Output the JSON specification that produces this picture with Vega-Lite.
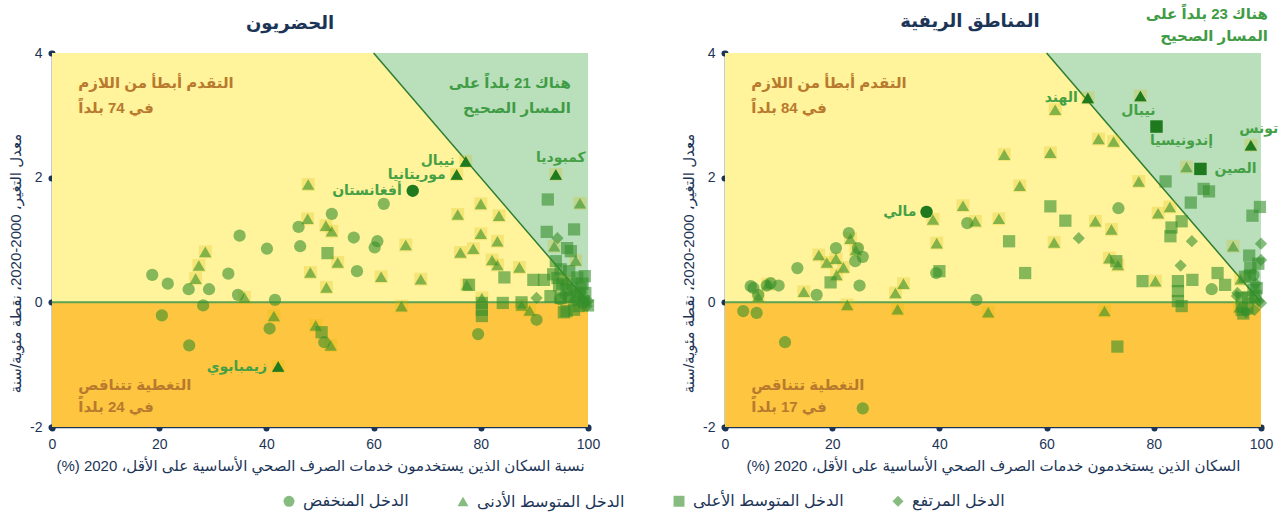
{
 "$schema": "https://vega.github.io/schema/vega-lite/v6.json",
 "padding": {"left": 8, "right": 5, "top": 7, "bottom": 5},
 "datasets": {
  "tri": [{"x": 60, "y": 4}, {"x": 100, "y": 0}],
  "urban": [
   {"x":18.7,"y":0.44,"g":"L"},{"x":21.6,"y":0.30,"g":"L"},{"x":25.5,"y":0.21,"g":"L"},{"x":29.3,"y":0.21,"g":"L"},{"x":32.9,"y":0.46,"g":"L"},{"x":35.0,"y":1.07,"g":"L"},{"x":34.7,"y":0.12,"g":"L"},{"x":40.1,"y":0.86,"g":"L"},{"x":41.6,"y":0.04,"g":"L"},{"x":46.0,"y":1.21,"g":"L"},{"x":46.3,"y":0.90,"g":"L"},{"x":52.2,"y":1.42,"g":"L"},{"x":56.3,"y":1.04,"g":"L"},{"x":60.7,"y":0.98,"g":"L"},{"x":60.2,"y":0.88,"g":"L"},{"x":56.9,"y":0.50,"g":"L"},{"x":61.9,"y":1.58,"g":"L"},{"x":28.2,"y":-0.05,"g":"L"},{"x":20.5,"y":-0.21,"g":"L"},{"x":25.6,"y":-0.69,"g":"L"},{"x":40.6,"y":-0.42,"g":"L"},{"x":50.8,"y":-0.64,"g":"L"},{"x":79.5,"y":-0.51,"g":"L"},{"x":90.4,"y":-0.28,"g":"L"},{"x":94.8,"y":0.05,"g":"L"},{"x":96.5,"y":0.08,"g":"L"},{"x":98.5,"y":0.15,"g":"L"},
   {"x":67.3,"y":1.79,"g":"L","label":"أفغانستان"},
   {"x":47.8,"y":1.89,"g":"LM"},{"x":47.7,"y":1.34,"g":"LM"},{"x":51.1,"y":1.23,"g":"LM"},{"x":52.2,"y":1.14,"g":"LM"},{"x":28.6,"y":0.81,"g":"LM"},{"x":27.4,"y":0.59,"g":"LM"},{"x":26.8,"y":0.38,"g":"LM"},{"x":53.3,"y":0.64,"g":"LM"},{"x":48.2,"y":0.48,"g":"LM"},{"x":51.2,"y":0.24,"g":"LM"},{"x":35.9,"y":0.08,"g":"LM"},{"x":41.4,"y":-0.22,"g":"LM"},{"x":49.2,"y":-0.37,"g":"LM"},{"x":52.0,"y":-0.69,"g":"LM"},{"x":80.0,"y":1.58,"g":"LM"},{"x":75.7,"y":1.41,"g":"LM"},{"x":83.4,"y":1.39,"g":"LM"},{"x":80.0,"y":1.10,"g":"LM"},{"x":83.1,"y":0.98,"g":"LM"},{"x":66.0,"y":0.92,"g":"LM"},{"x":76.2,"y":0.80,"g":"LM"},{"x":78.6,"y":0.86,"g":"LM"},{"x":82.1,"y":0.68,"g":"LM"},{"x":83.1,"y":0.60,"g":"LM"},{"x":87.2,"y":0.56,"g":"LM"},{"x":61.4,"y":0.41,"g":"LM"},{"x":68.8,"y":0.37,"g":"LM"},{"x":77.4,"y":0.28,"g":"LM"},{"x":80.2,"y":0.07,"g":"LM"},{"x":65.2,"y":-0.06,"g":"LM"},{"x":87.6,"y":-0.05,"g":"LM"},{"x":89.1,"y":-0.13,"g":"LM"},{"x":98.5,"y":1.59,"g":"LM"},{"x":93.7,"y":0.90,"g":"LM"},{"x":97.7,"y":0.67,"g":"LM"},{"x":95.8,"y":0.35,"g":"LM"},
   {"x":77.2,"y":2.26,"g":"LM","label":"نيبال"},{"x":75.5,"y":2.05,"g":"LM","label":"موريتانيا"},{"x":94.0,"y":2.05,"g":"LM","label":"كمبوديا"},{"x":42.2,"y":-1.03,"g":"LM","label":"زيمبابوي"},
   {"x":51.4,"y":0.79,"g":"UM"},{"x":50.3,"y":-0.48,"g":"UM"},{"x":77.8,"y":0.28,"g":"UM"},{"x":84.4,"y":0.40,"g":"UM"},{"x":89.8,"y":0.36,"g":"UM"},{"x":91.8,"y":0.36,"g":"UM"},{"x":80.2,"y":-0.01,"g":"UM"},{"x":80.2,"y":-0.12,"g":"UM"},{"x":80.2,"y":-0.22,"g":"UM"},{"x":84.1,"y":-0.01,"g":"UM"},{"x":87.6,"y":0.0,"g":"UM"},{"x":96.0,"y":-0.14,"g":"UM"},{"x":95.5,"y":-0.16,"g":"UM"},{"x":98.3,"y":-0.06,"g":"UM"},{"x":97.4,"y":-0.12,"g":"UM"},{"x":92.5,"y":1.65,"g":"UM"},{"x":92.3,"y":1.13,"g":"UM"},{"x":97.4,"y":1.17,"g":"UM"},{"x":96.1,"y":0.87,"g":"UM"},{"x":96.8,"y":0.82,"g":"UM"},{"x":94.0,"y":0.66,"g":"UM"},{"x":94.9,"y":0.53,"g":"UM"},{"x":96.5,"y":0.50,"g":"UM"},{"x":99.4,"y":0.42,"g":"UM"},{"x":94.3,"y":0.39,"g":"UM"},{"x":94.6,"y":0.27,"g":"UM"},{"x":98.6,"y":0.23,"g":"UM"},{"x":97.8,"y":0.12,"g":"UM"},{"x":96.5,"y":0.10,"g":"UM"},{"x":94.9,"y":0.07,"g":"UM"},{"x":99.2,"y":0.02,"g":"UM"},{"x":100,"y":-0.05,"g":"UM"},{"x":93.5,"y":0.45,"g":"UM"},{"x":95.2,"y":0.30,"g":"UM"},{"x":97.0,"y":0.30,"g":"UM"},{"x":98.0,"y":0.40,"g":"UM"},{"x":99.0,"y":0.30,"g":"UM"},{"x":99.5,"y":0.15,"g":"UM"},{"x":96.0,"y":0.20,"g":"UM"},{"x":93.0,"y":0.10,"g":"UM"},
   {"x":90.4,"y":0.07,"g":"H"},{"x":94.3,"y":1.03,"g":"H"},{"x":97.0,"y":0.22,"g":"H"},{"x":98.2,"y":0.10,"g":"H"},{"x":99.0,"y":0.05,"g":"H"},{"x":99.6,"y":0.0,"g":"H"},{"x":100,"y":0.02,"g":"H"},{"x":98.8,"y":-0.03,"g":"H"},{"x":99.8,"y":-0.06,"g":"H"},{"x":97.5,"y":0.02,"g":"H"},{"x":95.5,"y":0.12,"g":"H"}
  ],
  "rural": [
   {"x":37.6,"y":1.45,"g":"L","label":"مالي"},
   {"x":45.2,"y":1.27,"g":"L"},{"x":39.4,"y":0.47,"g":"L"},{"x":46.9,"y":0.04,"g":"L"},{"x":25.1,"y":0.27,"g":"L"},{"x":17.1,"y":0.12,"g":"L"},{"x":13.5,"y":0.55,"g":"L"},{"x":20.7,"y":0.87,"g":"L"},{"x":23.1,"y":1.11,"g":"L"},{"x":24.8,"y":0.87,"g":"L"},{"x":25.7,"y":0.73,"g":"L"},{"x":24.3,"y":0.66,"g":"L"},{"x":5.3,"y":0.23,"g":"L"},{"x":6.2,"y":0.12,"g":"L"},{"x":7.8,"y":0.27,"g":"L"},{"x":8.5,"y":0.31,"g":"L"},{"x":10.0,"y":0.27,"g":"L"},{"x":73.4,"y":1.51,"g":"L"},{"x":90.8,"y":0.21,"g":"L"},{"x":3.4,"y":-0.14,"g":"L"},{"x":5.9,"y":-0.17,"g":"L"},{"x":11.2,"y":-0.64,"g":"L"},{"x":25.7,"y":-1.70,"g":"L"},{"x":98.6,"y":0.44,"g":"L"},{"x":4.8,"y":0.26,"g":"L"},
   {"x":38.8,"y":1.33,"g":"LM"},{"x":44.4,"y":1.55,"g":"LM"},{"x":46.7,"y":1.30,"g":"LM"},{"x":51.1,"y":1.34,"g":"LM"},{"x":39.5,"y":0.95,"g":"LM"},{"x":55.0,"y":1.87,"g":"LM"},{"x":33.3,"y":0.30,"g":"LM"},{"x":31.8,"y":0.15,"g":"LM"},{"x":14.7,"y":0.17,"g":"LM"},{"x":17.5,"y":0.76,"g":"LM"},{"x":19.0,"y":0.64,"g":"LM"},{"x":20.7,"y":0.70,"g":"LM"},{"x":22.1,"y":0.56,"g":"LM"},{"x":20.8,"y":0.44,"g":"LM"},{"x":23.4,"y":1.02,"g":"LM"},{"x":24.4,"y":0.84,"g":"LM"},{"x":6.2,"y":0.09,"g":"LM"},{"x":8.0,"y":0.29,"g":"LM"},{"x":61.6,"y":3.09,"g":"LM"},{"x":69.7,"y":2.62,"g":"LM"},{"x":72.5,"y":2.58,"g":"LM"},{"x":52.1,"y":2.37,"g":"LM"},{"x":60.7,"y":2.40,"g":"LM"},{"x":77.2,"y":1.94,"g":"LM"},{"x":80.8,"y":1.43,"g":"LM"},{"x":83.0,"y":1.53,"g":"LM"},{"x":69.1,"y":1.30,"g":"LM"},{"x":72.1,"y":1.17,"g":"LM"},{"x":61.4,"y":0.96,"g":"LM"},{"x":71.7,"y":0.71,"g":"LM"},{"x":73.3,"y":0.60,"g":"LM"},{"x":80.3,"y":0.34,"g":"LM"},{"x":86.1,"y":2.17,"g":"LM"},{"x":94.8,"y":0.90,"g":"LM"},{"x":96.2,"y":0.37,"g":"LM"},{"x":22.8,"y":-0.04,"g":"LM"},{"x":32.2,"y":-0.11,"g":"LM"},{"x":49.1,"y":-0.16,"g":"LM"},{"x":70.8,"y":-0.14,"g":"LM"},{"x":96.0,"y":-0.08,"g":"LM"},
   {"x":67.7,"y":3.28,"g":"LM","label":"الهند"},{"x":77.5,"y":3.31,"g":"LM","label":"نيبال"},{"x":98.1,"y":2.52,"g":"LM","label":"تونس"},
   {"x":53.0,"y":0.98,"g":"UM"},{"x":40.0,"y":0.50,"g":"UM"},{"x":56.0,"y":0.47,"g":"UM"},{"x":19.7,"y":0.32,"g":"UM"},{"x":60.7,"y":1.54,"g":"UM"},{"x":63.5,"y":1.31,"g":"UM"},{"x":85.2,"y":1.30,"g":"UM"},{"x":83.3,"y":1.20,"g":"UM"},{"x":83.1,"y":1.06,"g":"UM"},{"x":73.0,"y":0.66,"g":"UM"},{"x":77.9,"y":0.34,"g":"UM"},{"x":84.5,"y":0.34,"g":"UM"},{"x":84.5,"y":0.18,"g":"UM"},{"x":84.5,"y":0.02,"g":"UM"},{"x":85.2,"y":-0.06,"g":"UM"},{"x":87.2,"y":0.36,"g":"UM"},{"x":91.9,"y":0.47,"g":"UM"},{"x":93.3,"y":0.28,"g":"UM"},{"x":73.2,"y":-0.71,"g":"UM"},{"x":82.2,"y":1.94,"g":"UM"},{"x":89.3,"y":1.82,"g":"UM"},{"x":90.3,"y":1.78,"g":"UM"},{"x":86.9,"y":1.60,"g":"UM"},{"x":99.8,"y":1.53,"g":"UM"},{"x":98.4,"y":1.39,"g":"UM"},{"x":97.8,"y":0.75,"g":"UM"},{"x":99.5,"y":0.62,"g":"UM"},{"x":97.9,"y":0.43,"g":"UM"},{"x":97.0,"y":0.41,"g":"UM"},{"x":99.2,"y":0.23,"g":"UM"},{"x":96.4,"y":0.07,"g":"UM"},{"x":97.6,"y":0.08,"g":"UM"},{"x":96.4,"y":-0.12,"g":"UM"},{"x":96.7,"y":-0.18,"g":"UM"},{"x":98.6,"y":0.20,"g":"UM"},{"x":98.0,"y":0.55,"g":"UM"},{"x":99.0,"y":0.10,"g":"UM"},{"x":97.5,"y":-0.10,"g":"UM"},
   {"x":80.5,"y":2.82,"g":"UM","label":"إندونيسيا"},{"x":88.7,"y":2.14,"g":"UM","label":"الصين"},
   {"x":66.0,"y":1.03,"g":"H"},{"x":87.1,"y":0.98,"g":"H"},{"x":85.0,"y":0.59,"g":"H"},{"x":95.6,"y":0.15,"g":"H"},{"x":99.6,"y":0.02,"g":"H"},{"x":100,"y":0.94,"g":"H"},{"x":100,"y":0.68,"g":"H"},{"x":100,"y":-0.01,"g":"H"},{"x":97.2,"y":-0.16,"g":"H"},{"x":95.5,"y":0.10,"g":"H"},{"x":98.5,"y":0.05,"g":"H"},{"x":99.0,"y":0.30,"g":"H"},{"x":98.8,"y":-0.12,"g":"H"}
  ]
 },
 "spacing": 137,
 "bounds": "flush",
 "resolve": {"scale": {"shape": "shared"}, "legend": {"shape": "shared"}},
 "hconcat": [
  {
   "width": 536, "height": 374,
   "title": {"text": "الحضريون", "dx": -30, "offset": 13},
   "layer": [
    {"data": {"values": [{}]}, "mark": {"type": "rect", "color": "#fff39b"},
     "encoding": {
      "x": {"datum": 0, "type": "quantitative", "scale": {"domain": [0, 100], "nice": false},
            "axis": {"values": [0, 20, 40, 60, 80, 100], "title": "نسبة السكان الذين يستخدمون خدمات الصرف الصحي الأساسية على الأقل، 2020 (%)\u200f"}},
      "x2": {"datum": 100},
      "y": {"datum": 0, "type": "quantitative", "scale": {"domain": [-2, 4], "nice": false},
            "axis": {"values": [-2, 0, 2, 4], "title": "معدل التغير، 2000-2020، نقطة مئوية/سنة", "titleY": 210, "labelExpr": "'' + datum.value"}},
      "y2": {"datum": 4}}},
    {"data": {"values": [{}]}, "mark": {"type": "rect", "color": "#fec640"},
     "encoding": {"x": {"datum": 0, "type": "quantitative"}, "x2": {"datum": 100},
                  "y": {"datum": -2, "type": "quantitative"}, "y2": {"datum": 0}}},
    {"data": {"name": "tri"}, "mark": {"type": "area", "color": "#b9dfbb", "opacity": 1},
     "encoding": {"x": {"field": "x", "type": "quantitative"},
                  "y": {"field": "y", "type": "quantitative"}, "y2": {"datum": 4}}},
    {"data": {"values": [{}]}, "mark": {"type": "rule", "color": "#5ea152", "strokeWidth": 2},
     "encoding": {"x": {"datum": 0, "type": "quantitative"}, "x2": {"datum": 100},
                  "y": {"datum": 0, "type": "quantitative"}}},
    {"data": {"name": "tri"}, "mark": {"type": "line", "color": "#2e7d32", "strokeWidth": 1.5},
     "encoding": {"x": {"field": "x", "type": "quantitative"},
                  "y": {"field": "y", "type": "quantitative"}}},
    {"data": {"name": "urban"}, "transform": [{"filter": "datum.g == 'LM'"}],
     "mark": {"type": "point", "filled": true, "shape": "square", "size": 165, "color": "#d9bd00", "opacity": 0.25},
     "encoding": {"x": {"field": "x", "type": "quantitative"},
                  "y": {"field": "y", "type": "quantitative"}}},
    {"data": {"name": "urban"},
     "mark": {"type": "point", "filled": true, "color": "#36902c", "opacity": 0.6, "size": 150},
     "encoding": {"x": {"field": "x", "type": "quantitative"},
                  "y": {"field": "y", "type": "quantitative"},
                  "shape": {"field": "g", "type": "nominal", "scale": {"domain": ["L", "LM", "UM", "H"], "range": ["circle", "triangle-up", "square", "diamond"]},
                            "legend": {"title": null, "orient": "bottom", "direction": "horizontal", "labelExpr": "datum.value == 'L' ? 'الدخل المنخفض' : datum.value == 'LM' ? 'الدخل المتوسط الأدنى' : datum.value == 'UM' ? 'الدخل المتوسط الأعلى' : 'الدخل المرتفع'",
                                       "encode": {"symbols": {"update": {"fill": {"value": "#7cc576"}, "stroke": {"value": "transparent"}, "opacity": {"value": 1}}}}}}}},
    {"data": {"name": "urban"}, "transform": [{"filter": "isValid(datum.label)"}],
     "mark": {"type": "point", "filled": true, "color": "#1f7a1f", "opacity": 1, "size": 150},
     "encoding": {"x": {"field": "x", "type": "quantitative"},
                  "y": {"field": "y", "type": "quantitative"},
                  "shape": {"field": "g", "type": "nominal"}}},
    {"data": {"name": "urban"}, "transform": [{"filter": {"field": "label", "oneOf": ["نيبال", "موريتانيا", "زيمبابوي", "أفغانستان"]}}],
     "mark": {"type": "text", "align": "right", "baseline": "middle", "dx": -11, "fontSize": 14, "fontWeight": "bold", "color": "#45a045"},
     "encoding": {"x": {"field": "x", "type": "quantitative"},
                  "y": {"field": "y", "type": "quantitative"},
                  "text": {"field": "label"}}},
    {"data": {"name": "urban"}, "transform": [{"filter": {"field": "label", "equal": "كمبوديا"}}],
     "mark": {"type": "text", "align": "center", "baseline": "middle", "dx": 5, "dy": -17, "fontSize": 14, "fontWeight": "bold", "color": "#45a045"},
     "encoding": {"x": {"field": "x", "type": "quantitative"},
                  "y": {"field": "y", "type": "quantitative"},
                  "text": {"field": "label"}}},
    {"data": {"values": [{}]},
     "mark": {"type": "text", "text": ["التقدم أبطأ من اللازم", "في 74 بلداً"], "align": "left", "baseline": "middle", "fontSize": 15, "fontWeight": "bold", "color": "#b87a2e", "lineHeight": 25},
     "encoding": {"x": {"datum": 4.9, "type": "quantitative"},
                  "y": {"datum": 3.52, "type": "quantitative"}}},
    {"data": {"values": [{}]},
     "mark": {"type": "text", "text": ["هناك 21 بلداً على", "المسار الصحيح"], "align": "right", "baseline": "middle", "fontSize": 15, "fontWeight": "bold", "color": "#3f9c45", "lineHeight": 25},
     "encoding": {"x": {"datum": 96.8, "type": "quantitative"},
                  "y": {"datum": 3.52, "type": "quantitative"}}},
    {"data": {"values": [{}]},
     "mark": {"type": "text", "text": ["التغطية تتناقص", "في 24 بلداً"], "align": "left", "baseline": "middle", "fontSize": 15, "fontWeight": "bold", "color": "#b87a2e", "lineHeight": 22},
     "encoding": {"x": {"datum": 4.9, "type": "quantitative"},
                  "y": {"datum": -1.32, "type": "quantitative"}}}
   ]
  },
  {
   "width": 536, "height": 374,
   "title": {"text": "المناطق الريفية", "dx": -23, "offset": -24},
   "layer": [
    {"data": {"values": [{}]}, "mark": {"type": "rect", "color": "#fff39b"},
     "encoding": {
      "x": {"datum": 0, "type": "quantitative", "scale": {"domain": [0, 100], "nice": false},
            "axis": {"values": [0, 20, 40, 60, 80, 100], "title": "السكان الذين يستخدمون خدمات الصرف الصحي الأساسية على الأقل، 2020 (%)\u200f"}},
      "x2": {"datum": 100},
      "y": {"datum": 0, "type": "quantitative", "scale": {"domain": [-2, 4], "nice": false},
            "axis": {"values": [-2, 0, 2, 4], "title": "معدل التغير، 2000-2020، نقطة مئوية/سنة", "titleY": 210, "labelExpr": "'' + datum.value"}},
      "y2": {"datum": 4}}},
    {"data": {"values": [{}]}, "mark": {"type": "rect", "color": "#fec640"},
     "encoding": {"x": {"datum": 0, "type": "quantitative"}, "x2": {"datum": 100},
                  "y": {"datum": -2, "type": "quantitative"}, "y2": {"datum": 0}}},
    {"data": {"name": "tri"}, "mark": {"type": "area", "color": "#b9dfbb", "opacity": 1},
     "encoding": {"x": {"field": "x", "type": "quantitative"},
                  "y": {"field": "y", "type": "quantitative"}, "y2": {"datum": 4}}},
    {"data": {"values": [{}]}, "mark": {"type": "rule", "color": "#5ea152", "strokeWidth": 2},
     "encoding": {"x": {"datum": 0, "type": "quantitative"}, "x2": {"datum": 100},
                  "y": {"datum": 0, "type": "quantitative"}}},
    {"data": {"name": "tri"}, "mark": {"type": "line", "color": "#2e7d32", "strokeWidth": 1.5},
     "encoding": {"x": {"field": "x", "type": "quantitative"},
                  "y": {"field": "y", "type": "quantitative"}}},
    {"data": {"name": "rural"}, "transform": [{"filter": "datum.g == 'LM'"}],
     "mark": {"type": "point", "filled": true, "shape": "square", "size": 165, "color": "#d9bd00", "opacity": 0.25},
     "encoding": {"x": {"field": "x", "type": "quantitative"},
                  "y": {"field": "y", "type": "quantitative"}}},
    {"data": {"name": "rural"},
     "mark": {"type": "point", "filled": true, "color": "#36902c", "opacity": 0.6, "size": 150},
     "encoding": {"x": {"field": "x", "type": "quantitative"},
                  "y": {"field": "y", "type": "quantitative"},
                  "shape": {"field": "g", "type": "nominal"}}},
    {"data": {"name": "rural"}, "transform": [{"filter": "isValid(datum.label)"}],
     "mark": {"type": "point", "filled": true, "color": "#1f7a1f", "opacity": 1, "size": 150},
     "encoding": {"x": {"field": "x", "type": "quantitative"},
                  "y": {"field": "y", "type": "quantitative"},
                  "shape": {"field": "g", "type": "nominal"}}},
    {"data": {"name": "rural"}, "transform": [{"filter": {"field": "label", "oneOf": ["الهند", "مالي"]}}],
     "mark": {"type": "text", "align": "right", "baseline": "middle", "dx": -10, "fontSize": 14, "fontWeight": "bold", "color": "#45a045"},
     "encoding": {"x": {"field": "x", "type": "quantitative"},
                  "y": {"field": "y", "type": "quantitative"},
                  "text": {"field": "label"}}},
    {"data": {"name": "rural"}, "transform": [{"filter": {"field": "label", "equal": "نيبال"}}],
     "mark": {"type": "text", "align": "center", "baseline": "middle", "dx": -2, "dy": 15, "fontSize": 14, "fontWeight": "bold", "color": "#45a045"},
     "encoding": {"x": {"field": "x", "type": "quantitative"},
                  "y": {"field": "y", "type": "quantitative"},
                  "text": {"field": "label"}}},
    {"data": {"name": "rural"}, "transform": [{"filter": {"field": "label", "equal": "إندونيسيا"}}],
     "mark": {"type": "text", "align": "center", "baseline": "middle", "dx": 25, "dy": 14, "fontSize": 14, "fontWeight": "bold", "color": "#45a045"},
     "encoding": {"x": {"field": "x", "type": "quantitative"},
                  "y": {"field": "y", "type": "quantitative"},
                  "text": {"field": "label"}}},
    {"data": {"name": "rural"}, "transform": [{"filter": {"field": "label", "equal": "الصين"}}],
     "mark": {"type": "text", "align": "left", "baseline": "middle", "dx": 14, "fontSize": 14, "fontWeight": "bold", "color": "#45a045"},
     "encoding": {"x": {"field": "x", "type": "quantitative"},
                  "y": {"field": "y", "type": "quantitative"},
                  "text": {"field": "label"}}},
    {"data": {"name": "rural"}, "transform": [{"filter": {"field": "label", "equal": "تونس"}}],
     "mark": {"type": "text", "align": "center", "baseline": "middle", "dx": 8, "dy": -16, "fontSize": 14, "fontWeight": "bold", "color": "#45a045"},
     "encoding": {"x": {"field": "x", "type": "quantitative"},
                  "y": {"field": "y", "type": "quantitative"},
                  "text": {"field": "label"}}},
    {"data": {"values": [{}]},
     "mark": {"type": "text", "text": ["التقدم أبطأ من اللازم", "في 84 بلداً"], "align": "left", "baseline": "middle", "fontSize": 15, "fontWeight": "bold", "color": "#b87a2e", "lineHeight": 25},
     "encoding": {"x": {"datum": 4.9, "type": "quantitative"},
                  "y": {"datum": 3.52, "type": "quantitative"}}},
    {"data": {"values": [{}]},
     "mark": {"type": "text", "text": ["هناك 23 بلداً على", "المسار الصحيح"], "align": "right", "baseline": "middle", "fontSize": 15, "fontWeight": "bold", "color": "#3f9c45", "lineHeight": 22},
     "encoding": {"x": {"datum": 101.3, "type": "quantitative"},
                  "y": {"datum": 4.62, "type": "quantitative"}}},
    {"data": {"values": [{}]},
     "mark": {"type": "text", "text": ["التغطية تتناقص", "في 17 بلداً"], "align": "left", "baseline": "middle", "fontSize": 15, "fontWeight": "bold", "color": "#b87a2e", "lineHeight": 22},
     "encoding": {"x": {"datum": 4.9, "type": "quantitative"},
                  "y": {"datum": -1.32, "type": "quantitative"}}}
   ]
  }
 ],
 "config": {
  "font": "Liberation Sans, DejaVu Sans, sans-serif",
  "view": {"stroke": null},
  "title": {"fontSize": 18, "fontWeight": "bold", "color": "#1c3557", "anchor": "middle", "frame": "group"},
  "axis": {"grid": false, "domainColor": "#1c3557", "domainWidth": 1.5, "tickColor": "#1c3557", "tickWidth": 6, "tickSize": 1, "tickCap": "round",
           "labelColor": "#1c3557", "labelFontSize": 14, "labelPadding": 9, "labelFlush": false, "labelOverlap": false,
           "titleColor": "#1c3557", "titleFontSize": 15, "titleFontWeight": "normal"},
  "axisX": {"titlePadding": 7},
  "axisY": {"titlePadding": 6},
  "legend": {"orient": "bottom", "direction": "horizontal", "symbolSize": 120, "labelFontSize": 16, "labelColor": "#1c3557", "columnPadding": 45, "labelOffset": 6, "offset": 20,
             "layout": {"bottom": {"anchor": "middle"}}}
 }
}
